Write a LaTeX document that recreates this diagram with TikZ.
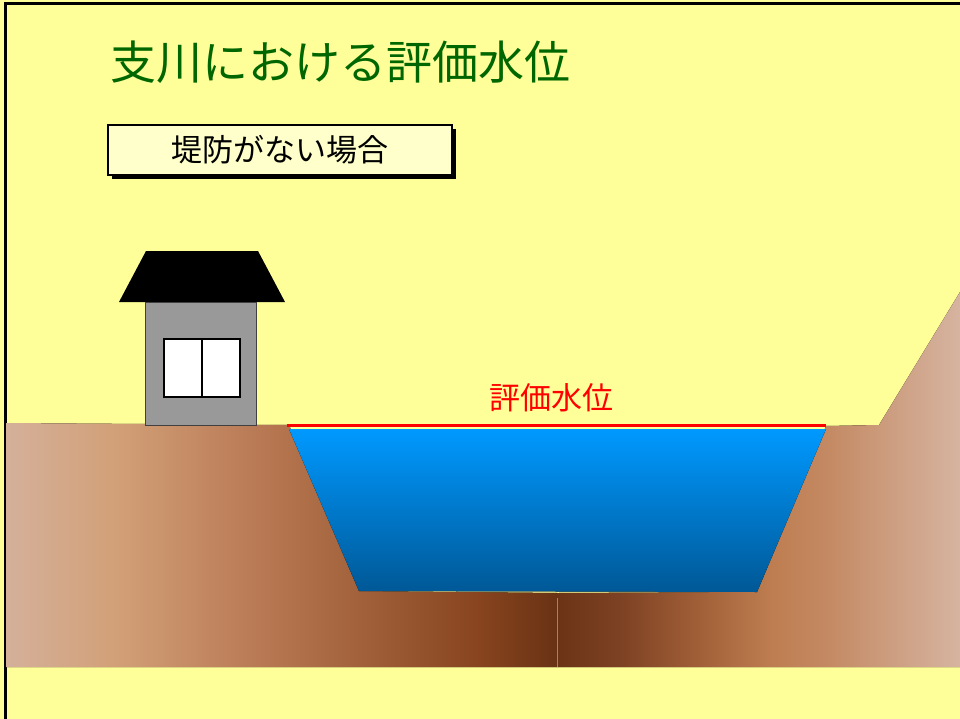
\documentclass[tikz,border=0pt]{standalone}
\usepackage{fontspec}
\newfontfamily\jpfont{Noto Sans CJK JP}

\definecolor{bgyellow}{RGB}{255,255,153}
\definecolor{boxyellow}{RGB}{255,255,204}
\definecolor{titlegreen}{RGB}{0,102,0}
\definecolor{housegray}{RGB}{153,153,153}
\definecolor{waterTop}{RGB}{0,153,255}
\definecolor{waterBot}{RGB}{0,88,150}
\definecolor{seam}{RGB}{185,125,75}
% left bank soil
\definecolor{gLa}{RGB}{212,176,154}
\definecolor{gLb}{RGB}{210,160,120}
\definecolor{gLc}{RGB}{188,126,88}
\definecolor{gLd}{RGB}{135,68,30}
\definecolor{gLe}{RGB}{105,50,20}
% right bank soil
\definecolor{gRa}{RGB}{108,52,22}
\definecolor{gRb}{RGB}{125,65,35}
\definecolor{gRc}{RGB}{162,96,56}
\definecolor{gRd}{RGB}{190,125,80}
\definecolor{gRe}{RGB}{196,138,100}
\definecolor{gRf}{RGB}{214,180,160}

\pgfdeclarehorizontalshading{soilleft}{100bp}{%
  color(0bp)=(gLa); color(25bp)=(gLa); color(34.9bp)=(gLb);
  color(46.2bp)=(gLc); color(67.9bp)=(gLd); color(75bp)=(gLe); color(100bp)=(gLe)}
\pgfdeclarehorizontalshading{soilright}{100bp}{%
  color(0bp)=(gRa); color(25bp)=(gRa); color(32.7bp)=(gRb);
  color(42.7bp)=(gRc); color(51.4bp)=(gRd); color(58.8bp)=(gRe);
  color(75bp)=(gRf); color(100bp)=(gRf)}

\tikzset{
  labeltext/.style={font=\jpfont, inner sep=0pt},
  casebox/.style={draw=black, line width=1.5pt, fill=boxyellow,
    minimum width=344pt, minimum height=50pt, inner sep=0pt},
  boxshadow/.style={fill=black, minimum width=344pt, minimum height=50pt, inner sep=0pt},
}

\begin{document}
\begin{tikzpicture}[x=1pt, y=-1pt]
  % background and frame
  \fill[bgyellow] (0,0) rectangle (960,719);
  \useasboundingbox (0,0) rectangle (960,719);
  \draw[line width=3pt] (5,719) -- (5,4) -- (960,4);

  % soil on both banks
  \fill[shading=soilleft]
    (6,423) -- (289,425) -- (359,591) -- (558,593) -- (558,667) -- (6,667) -- cycle;
  \fill[shading=soilright]
    (558,593) -- (757,592) -- (826,426) -- (879,425) -- (960,292) -- (960,667) -- (558,667) -- cycle;
  \draw[seam, line width=0.8pt] (557.5,598) -- (557.5,667);

  % river water
  \fill[top color=waterTop, bottom color=waterBot]
    (289,429) -- (826,429) -- (757,592) -- (359,591) -- cycle;
  \draw[red, line width=3.5pt] (287,425.5) -- (826,425.5);

  % house
  \fill[black] (146,251) -- (258,251) -- (285,302) -- (119,302) -- cycle;
  \draw[fill=housegray, draw=black!75, line width=0.8pt] (145,302) rectangle (256,425);
  \draw[fill=white, line width=1.3pt] (164,339) rectangle (240,397);
  \draw[line width=1.3pt] (202,339) -- (202,397);

  % texts
  \node[labeltext, anchor=west, text=titlegreen, font=\jpfont\fontsize{46}{50}\selectfont]
    (title) at (110,62) {支川における評価水位};

  \node[boxshadow] (shadow) at (284,154) {};
  \node[casebox] (case) at (280,150) {};
  \node[labeltext, font=\jpfont\fontsize{31}{34}\selectfont] (caselabel) at (case.center) {堤防がない場合};

  \node[labeltext, text=red, font=\jpfont\fontsize{31}{34}\selectfont]
    (levellabel) at (551,398) {評価水位};
\end{tikzpicture}
\end{document}
